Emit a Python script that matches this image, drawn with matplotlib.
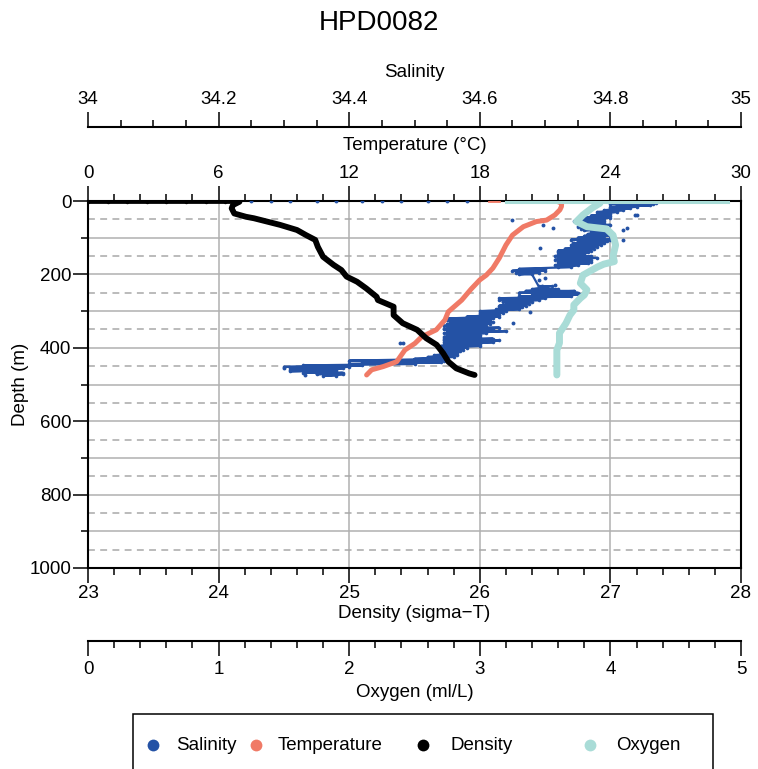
import matplotlib
matplotlib.use('Agg')
import numpy as np
import matplotlib.pyplot as plt
from matplotlib.ticker import MultipleLocator, FixedLocator, FixedFormatter
from matplotlib.lines import Line2D
from matplotlib.patches import Rectangle

plt.rcParams['font.family'] = ['Liberation Sans', 'DejaVu Sans']

# ---- data (depth in m) ----
temp_depth = [2, 6, 15, 24, 38, 52, 56, 70, 93, 120, 155, 183, 202, 215,
              240, 270, 302, 324, 351, 370, 388, 406, 438, 451, 460, 474]
temp_vals = [21.6, 21.76, 21.75, 21.68, 21.45, 21.07, 20.6, 20.0,
             19.5, 19.2, 18.9, 18.6, 18.3, 18.0, 17.6, 17.17, 16.55, 16.4,
             16.0, 15.33, 15.02, 14.56, 14.18, 13.57, 13.03, 12.8]
temp_surf_vals = [18.4, 18.6, 18.9]

dens_depth = [2, 11, 20, 34, 43, 47, 56, 65, 79, 93, 106, 125,
              152, 174, 188, 206, 220, 238, 261, 270, 288, 311, 333, 351, 374,
              392, 415, 438, 456, 470, 474]
dens_vals = [24.16, 24.11, 24.10, 24.12, 24.21,
             24.27, 24.37, 24.47, 24.60, 24.67, 24.74, 24.76, 24.80, 24.88,
             24.94, 24.98, 25.06, 25.13, 25.21, 25.22, 25.34, 25.34, 25.41,
             25.52, 25.59, 25.67, 25.72, 25.76, 25.82, 25.92, 25.96]
dens_surf_vals = [23.0, 23.15, 23.3, 23.45, 23.6, 23.75, 23.9, 24.05, 24.16]

oxy_depth = [2, 6, 19, 38, 56, 70, 76, 93, 120, 150, 165, 172,
             180, 202, 224, 242, 256, 265, 283, 297, 311, 333, 360, 387, 406,
             451, 474]
oxy_vals = [3.9, 3.92, 3.86, 3.79, 3.74, 3.82, 3.97,
            4.02, 4.04, 4.02, 4.03, 3.95, 3.9, 3.79, 3.77, 3.82, 3.80, 3.77,
            3.72, 3.72, 3.69, 3.66, 3.61, 3.61, 3.59, 3.59, 3.59]
oxy_surf_vals = [3.2, 3.4, 3.6, 3.8, 4.0, 4.2, 4.4, 4.6, 4.75, 4.9]

# salinity is a noisy cloud: left / right edge of the cloud at each depth
sal_depth = [2, 5, 8, 12, 16, 20, 25, 30, 35, 40, 45, 50, 55, 60, 65, 70, 75,
             80, 85, 90, 95, 100, 105, 110, 115, 120, 125, 130, 135, 140, 145,
             150, 155, 160, 165, 170, 175, 180, 185, 190, 195, 200, 232, 240,
             245, 250, 255, 260, 265, 270, 275, 280, 285, 290, 295, 300, 305,
             310, 315, 320, 325, 330, 335, 340, 345, 350, 355, 360, 365, 370,
             375, 380, 385, 390, 395, 400, 405, 410, 415, 420, 425, 430, 435,
             440, 444, 448, 452, 456, 460, 464, 468, 472, 476]
sal_left = [34.80, 34.83, 34.80, 34.81, 34.80, 34.80, 34.79, 34.78, 34.78,
            34.77, 34.76, 34.75, 34.745, 34.75, 34.76, 34.75, 34.755, 34.76,
            34.77, 34.765, 34.76, 34.75, 34.74, 34.75, 34.745, 34.74, 34.74,
            34.73, 34.72, 34.72, 34.72, 34.715, 34.72, 34.715, 34.72, 34.72,
            34.715, 34.72, 34.66, 34.65, 34.655, 34.66, 34.69, 34.68, 34.67,
            34.66, 34.68, 34.66, 34.63, 34.63, 34.635, 34.64, 34.63, 34.63,
            34.625, 34.60, 34.60, 34.60, 34.58, 34.55, 34.55, 34.555, 34.55,
            34.545, 34.55, 34.545, 34.55, 34.545, 34.55, 34.545, 34.545,
            34.545, 34.545, 34.545, 34.54, 34.54, 34.54, 34.54, 34.54, 34.53,
            34.52, 34.50, 34.40, 34.42, 34.40, 34.33, 34.30, 34.31, 34.31,
            34.31, 34.33, 34.35, 34.36]
sal_right = [34.87, 34.87, 34.865, 34.86, 34.84, 34.83, 34.82, 34.81, 34.80,
             34.80, 34.80, 34.79, 34.79, 34.79, 34.80, 34.79, 34.79, 34.795,
             34.80, 34.80, 34.80, 34.79, 34.80, 34.795, 34.79, 34.785, 34.78,
             34.775, 34.77, 34.765, 34.76, 34.77, 34.78, 34.77, 34.77, 34.765,
             34.75, 34.74, 34.70, 34.70, 34.69, 34.68, 34.71, 34.72, 34.745,
             34.75, 34.755, 34.74, 34.70, 34.69, 34.68, 34.675, 34.67, 34.665,
             34.66, 34.64, 34.635, 34.63, 34.63, 34.62, 34.615, 34.62, 34.615,
             34.61, 34.63, 34.62, 34.64, 34.61, 34.60, 34.60, 34.62, 34.63,
             34.62, 34.60, 34.60, 34.58, 34.575, 34.57, 34.565, 34.565, 34.56,
             34.55, 34.545, 34.54, 34.50, 34.42, 34.40, 34.39, 34.38, 34.38,
             34.39, 34.39, 34.38]
# loose salinity points (surface strip and outliers)
sal_dot_depth = [1, 1, 1, 1, 1, 1, 1, 1, 1, 1, 1, 37, 38, 74, 78, 106, 52, 65,
                 74, 114, 128, 210, 215, 229, 232, 302, 333, 387, 388, 455, 474]
sal_dot_vals = [34.25, 34.28, 34.31, 34.35, 34.38, 34.42, 34.45, 34.48, 34.52,
                34.55, 34.58, 34.84, 34.838, 34.825, 34.819, 34.819, 34.65,
                34.697, 34.712, 34.743, 34.692, 34.70, 34.69, 34.715, 34.695,
                34.677, 34.651, 34.478, 34.482, 34.30, 34.332]

c_sal = '#2452a5'
c_temp = '#f07a66'
c_dens = 'black'
c_oxy = '#a9dcd7'
fs = 13.5

W, H = 758, 769
fig = plt.figure(figsize=(W / 100, H / 100), dpi=100)
ax = fig.add_axes([88 / W, 1 - 568 / H, (741 - 88) / W, (568 - 201) / H])

# twins, in drawing order
axs = ax.twiny()   # salinity
axt = ax.twiny()   # temperature data
axd = ax.twiny()   # density
axo = ax.twiny()   # oxygen

ax.set_xlim(0, 30)
ax.set_ylim(1000, 0)
ax.xaxis.set_ticks_position('top')
ax.xaxis.set_label_position('top')
ax.set_xticks(range(0, 31, 6))
ax.xaxis.set_minor_locator(MultipleLocator(1.2))
ax.set_yticks(range(0, 1001, 200))
ax.yaxis.set_minor_locator(MultipleLocator(100))
ax.set_xlabel('Temperature (°C)', fontsize=fs, labelpad=11)
ax.set_ylabel('Depth (m)', fontsize=fs, labelpad=0)
ax.tick_params(axis='x', which='major', length=10.5, width=1.1, labelsize=fs, pad=3)
ax.tick_params(axis='y', which='major', length=10.5, width=1.1, labelsize=fs, pad=1.5)
ax.tick_params(which='minor', length=5.3, width=1.1)
for s in ax.spines.values():
    s.set_linewidth(1.5)

# grid
for xv in [6, 12, 18, 24]:
    ax.axvline(xv, color='#b0b0b0', lw=1.1, zorder=0)
for yv in range(100, 1000, 100):
    ax.axhline(yv, color='#b0b0b0', lw=1.1, zorder=0)
for yv in range(50, 1000, 100):
    ax.axhline(yv, color='#a8a8a8', lw=1.1, ls=(0, (4.5, 3.5)), zorder=0)

# salinity axis
axs.set_xlim(34, 35)
axs.xaxis.set_ticks_position('top')
axs.xaxis.set_label_position('top')
axs.xaxis.set_major_locator(FixedLocator([34, 34.2, 34.4, 34.6, 34.8, 35]))
axs.xaxis.set_major_formatter(FixedFormatter(['34', '34.2', '34.4', '34.6', '34.8', '35']))
axs.xaxis.set_minor_locator(MultipleLocator(0.05))
for k, s in axs.spines.items():
    s.set_visible(k == 'top')
axs.spines['top'].set_position(('outward', 53.3))
axs.spines['top'].set_linewidth(1.5)
axs.set_xlabel('Salinity', fontsize=fs, labelpad=10)
axs.tick_params(which='major', length=10.5, width=1.1, labelsize=fs, pad=3.5)
axs.tick_params(which='minor', length=5.3, width=1.1)

zz_d = np.repeat(sal_depth, 2)
zz_v = np.column_stack([sal_left, sal_right]).ravel()
axs.plot(zz_v, zz_d, color=c_sal, lw=1.6, marker='o', ms=2.6, mew=0)
axs.plot(sal_dot_vals, sal_dot_depth, 'o', color=c_sal, ms=2.8, mew=0)

# temperature data
axt.set_xlim(0, 30)
axt.xaxis.set_visible(False)
for s in axt.spines.values():
    s.set_visible(False)
axt.plot(temp_surf_vals, [1] * len(temp_surf_vals), color=c_temp, lw=2)
axt.plot(temp_vals, temp_depth, color=c_temp, lw=3.6, solid_capstyle='round',
         solid_joinstyle='round')

# density axis (bottom)
axd.set_xlim(23, 28)
axd.xaxis.set_ticks_position('bottom')
axd.xaxis.set_label_position('bottom')
axd.set_xticks(range(23, 29))
axd.xaxis.set_minor_locator(MultipleLocator(0.2))
for s in axd.spines.values():
    s.set_visible(False)
axd.set_xlabel('Density (sigma\u2212T)', fontsize=fs, labelpad=2)
axd.tick_params(which='major', length=10.5, width=1.1, labelsize=fs, pad=2)
axd.tick_params(which='minor', length=5.3, width=1.1)
axd.plot(dens_surf_vals, [1.5] * len(dens_surf_vals), color=c_dens, lw=2,
         marker='o', ms=2.5, mew=0)
axd.plot(dens_vals, dens_depth, color=c_dens, lw=4.2, solid_capstyle='round',
         solid_joinstyle='round')

# oxygen axis
axo.set_xlim(0, 5)
axo.xaxis.set_ticks_position('bottom')
axo.xaxis.set_label_position('bottom')
axo.set_xticks(range(0, 6))
axo.xaxis.set_minor_locator(MultipleLocator(0.2))
for k, s in axo.spines.items():
    s.set_visible(k == 'bottom')
axo.spines['bottom'].set_position(('outward', 52.6))
axo.spines['bottom'].set_linewidth(1.5)
axo.set_xlabel('Oxygen (ml/L)', fontsize=fs, labelpad=4)
axo.tick_params(which='major', length=10.5, width=1.1, labelsize=fs, pad=4)
axo.tick_params(which='minor', length=5.3, width=1.1)
axo.plot(oxy_surf_vals, [1.5] * len(oxy_surf_vals), color=c_oxy, lw=2.2)
axo.plot(oxy_vals, oxy_depth, color=c_oxy, lw=5.0, solid_capstyle='round',
         solid_joinstyle='round')

# title
fig.text(0.5, 1 - 23 / H, 'HPD0082', ha='center', va='center', fontsize=20)

# legend box
fig.add_artist(Rectangle((133 / W, -0.05), (713 - 133) / W, 0.05 + 1 - 714 / H,
                         transform=fig.transFigure, fill=False,
                         edgecolor='black', lw=1.1))
leg_names = ['Salinity', 'Temperature', 'Density', 'Oxygen']
leg_colors = [c_sal, c_temp, c_dens, c_oxy]
leg_marker_x = [153, 256, 423, 590]
leg_text_x = [176, 278, 450, 616]
ly = 1 - 745 / H
for name, col, mx, tx in zip(leg_names, leg_colors, leg_marker_x, leg_text_x):
    fig.add_artist(Line2D([mx / W], [ly], marker='o', ms=8.5, color=col, mew=0,
                          transform=fig.transFigure))
    fig.text(tx / W, ly, name, ha='left', va='center', fontsize=fs)

fig.savefig('out.png', dpi=100)
